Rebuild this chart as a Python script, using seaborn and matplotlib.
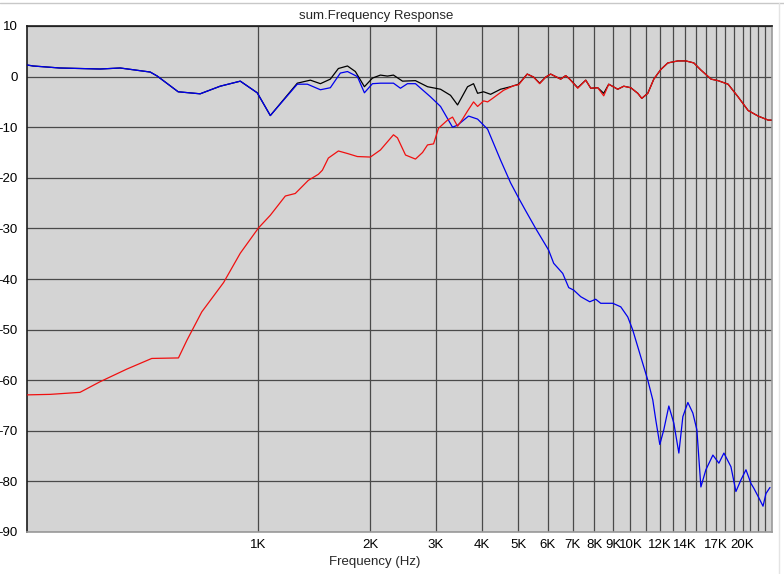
import matplotlib
matplotlib.use("Agg")
import matplotlib.pyplot as plt
from matplotlib.ticker import FixedLocator, NullLocator, FixedFormatter
from matplotlib.lines import Line2D
import seaborn as sns
import pandas as pd

# ---------------- data ----------------
blue_freq = [240, 249, 294, 377, 427, 514, 537, 611, 700, 792, 897, 996, 1080, 1276, 1358,
             1472, 1565, 1665, 1740, 1850, 1932, 2030, 2133, 2312, 2414, 2521, 2649, 2907,
             3093, 3331, 3436, 3678, 3889, 4138, 4482, 4769, 5012, 5234, 5568, 6034, 6225,
             6583, 6831, 7046, 7359, 7780, 8072, 8325, 8969, 9423, 9840, 10150, 10666, 11138,
             11486, 11703, 11995, 12295, 12683, 13083, 13494, 13833, 14267, 14715, 15084,
             15463, 15948, 16654, 17283, 17829, 18619, 19204, 19808, 20431, 21074, 21468,
             22143, 22703, 23121, 23699]
blue_db = [2.3, 2.1, 1.7, 1.5, 1.7, 0.9, 0.1, -3.0, -3.4, -1.9, -0.9, -3.2, -7.7, -1.5, -1.5,
           -2.6, -2.2, 0.7, 1.0, 0.0, -3.2, -1.4, -1.3, -1.3, -2.3, -1.4, -1.4, -4.0,
           -5.9, -10.0, -9.6, -7.8, -8.4, -10.4, -16.5, -21.0, -24.0, -26.5, -30.0, -34.3, -36.9,
           -38.9, -41.7, -42.2, -43.5, -44.5, -44.0, -44.8, -44.8, -45.5, -47.5, -50.1, -55.4, -60.0,
           -63.9, -67.9, -72.7, -69.8, -65.1, -68.5, -74.4, -67.2, -64.4, -66.5, -69.8,
           -81.1, -77.7, -74.8, -76.4, -74.4, -77.1, -82.0, -79.7, -77.7, -80.4, -81.4,
           -83.3, -84.9, -82.4, -81.2]

red_freq = [240, 277, 333, 377, 445, 519, 612, 645, 707, 809, 897, 1004, 1080, 1185, 1260,
            1300, 1366, 1454, 1490, 1546, 1645, 1740, 1850, 2005, 2133, 2312, 2370, 2491,
            2649, 2767, 2854, 2962, 3055, 3229, 3331, 3436, 3544, 3655, 3793, 3889, 4036,
            4138, 4268, 4568, 4860, 5012, 5286, 5499, 5708, 5924, 6109, 6501, 6705, 6874,
            7223, 7589, 7828, 8174, 8482, 8748, 9249, 9600, 10025, 10469, 10730, 11138,
            11558, 12069, 12604, 13410, 14091, 14806, 15463, 16470, 17199, 18297, 19458,
            20709, 22029, 23442, 23878]
red_db = [-62.9, -62.8, -62.4, -60.3, -57.8, -55.7, -55.6, -52.1, -46.5, -40.7, -34.9, -29.9, -27.4, -23.6, -23.1,
          -22.1, -20.5, -19.3, -18.5, -16.1, -14.7, -15.2, -15.8, -15.9, -14.5, -11.5, -12.1, -15.5,
          -16.3, -15.0, -13.5, -13.3, -10.2, -8.6, -8.0, -9.8, -8.4, -6.8, -5.0, -5.9, -4.8,
          -5.0, -4.3, -2.7, -1.8, -1.6, 0.5, -0.1, -1.4, -0.1, 0.5, -0.5, 0.2, -0.5,
          -2.3, -0.7, -2.3, -2.2, -3.8, -1.5, -2.5, -1.9, -2.2, -3.3, -4.3, -3.3,
          -0.5, 1.4, 2.7, 3.1, 3.1, 2.7, 1.3, -0.5, -0.8, -1.5, -4.0,
          -6.7, -7.8, -8.6, -8.6]

black_freq = [240, 249, 294, 377, 427, 514, 537, 611, 700, 792, 897, 996, 1080, 1276, 1383,
              1472, 1565, 1645, 1740, 1827, 1932, 2030, 2133, 2227, 2312, 2445, 2649, 2854,
              3093, 3290, 3436, 3655, 3793, 3889, 4036, 4215, 4482, 4769, 5012, 5286, 5499,
              5708, 5924, 6109, 6501, 6705, 6874, 7223, 7589, 7828, 8174, 8482, 8748, 9249,
              9600, 10025, 10469, 10730, 11138, 11558, 12069, 12604, 13410, 14091, 14806,
              15463, 16470, 17199, 18297, 19458, 20709, 22029, 23442, 23878]
black_db = [2.3, 2.1, 1.7, 1.5, 1.7, 0.9, 0.1, -3.0, -3.4, -1.9, -0.9, -3.2, -7.7, -1.3, -0.7,
            -1.4, -0.5, 1.6, 2.1, 1.0, -2.0, -0.3, 0.3, 0.1, 0.3, -0.9, -0.8, -2.0,
            -2.5, -3.7, -5.6, -2.0, -1.4, -3.3, -3.0, -3.5, -2.5, -2.0, -1.5, 0.5, -0.1,
            -1.3, -0.1, 0.5, -0.5, 0.2, -0.5, -2.2, -0.7, -2.3, -2.2, -3.3, -1.5, -2.5,
            -1.9, -2.2, -3.3, -4.3, -3.3, -0.5, 1.4, 2.7, 3.1, 3.1, 2.7,
            1.3, -0.5, -0.8, -1.5, -4.0, -6.7, -7.8, -8.6, -8.6]

grid_freqs = [1000, 2000, 3000, 4000, 5000, 6000, 7000, 8000, 9000, 10000, 11000, 12000,
              13000, 14000, 15000, 16000, 17000, 18000, 19000, 20000, 21000, 22000, 23000]
grid_labels = ["1K", "2K", "3K", "4K", "5K", "6K", "7K", "8K", "9K", "10K", "", "12K",
               "", "14K", "", "", "17K", "", "", "20K", "", "", ""]
y_ticks = [10, 0, -10, -20, -30, -40, -50, -60, -70, -80, -90]

title_text = "sum.Frequency Response"
xlabel_text = "Frequency (Hz)"

# ---------------- plot ----------------
sns.set_style("white")
plt.rcParams["font.family"] = ["Liberation Sans", "DejaVu Sans"]

W, H = 784, 574
fig = plt.figure(figsize=(W / 100, H / 100), dpi=100, facecolor="#FFFFFF")
ax = fig.add_axes([27 / W, 1 - 532 / H, (772 - 27) / W, (532 - 26) / H])
ax.set_facecolor("#D4D4D4")

df_black = pd.DataFrame({"f": black_freq, "db": black_db})
df_blue = pd.DataFrame({"f": blue_freq, "db": blue_db})
df_red = pd.DataFrame({"f": red_freq, "db": red_db})

sns.lineplot(data=df_black, x="f", y="db", ax=ax, color="#000000", lw=0.9,
             sort=False, estimator=None, zorder=3)
sns.lineplot(data=df_blue, x="f", y="db", ax=ax, color="#0000EE", lw=0.9,
             sort=False, estimator=None, zorder=4)
sns.lineplot(data=df_red, x="f", y="db", ax=ax, color="#F01010", lw=0.9,
             sort=False, estimator=None, zorder=5)

ax.set_xscale("log")
ax.set_xlim(240, 24000)
ax.set_ylim(-90, 10)

ax.xaxis.set_major_locator(FixedLocator(grid_freqs))
ax.xaxis.set_major_formatter(FixedFormatter(grid_labels))
ax.xaxis.set_minor_locator(NullLocator())
ax.set_yticks(y_ticks)
ax.set_yticklabels([str(v) for v in y_ticks])

ax.grid(True, which="major", color="#4A4A4A", lw=0.9, zorder=1)
ax.set_axisbelow(True)
ax.tick_params(axis="both", length=0, labelsize=9.5, colors="#000000")
ax.tick_params(axis="x", pad=5)
ax.tick_params(axis="y", pad=6.5)

ax.spines["top"].set_color("#1A1A1A")
ax.spines["left"].set_color("#1A1A1A")
ax.spines["bottom"].set_color("#9A9A9A")
ax.spines["right"].set_color("#9A9A9A")
for s in ax.spines.values():
    s.set_linewidth(1.2)

ax.set_xlabel("")
ax.set_ylabel("")

fig.text(376 / W, 1 - 16 / H, title_text, ha="center", va="center", fontsize=9.5)
fig.text(375 / W, 1 - 562 / H, xlabel_text, ha="center", va="center", fontsize=9.5)

# window frame lines
fig.add_artist(Line2D([0, 1], [1 - 3 / H, 1 - 3 / H], transform=fig.transFigure,
                      color="#C8C8C8", lw=1))
fig.add_artist(Line2D([779 / W, 779 / W], [0, 1 - 3 / H], transform=fig.transFigure,
                      color="#E4E4E4", lw=1))

fig.savefig("out.png", dpi=100, facecolor=fig.get_facecolor())
